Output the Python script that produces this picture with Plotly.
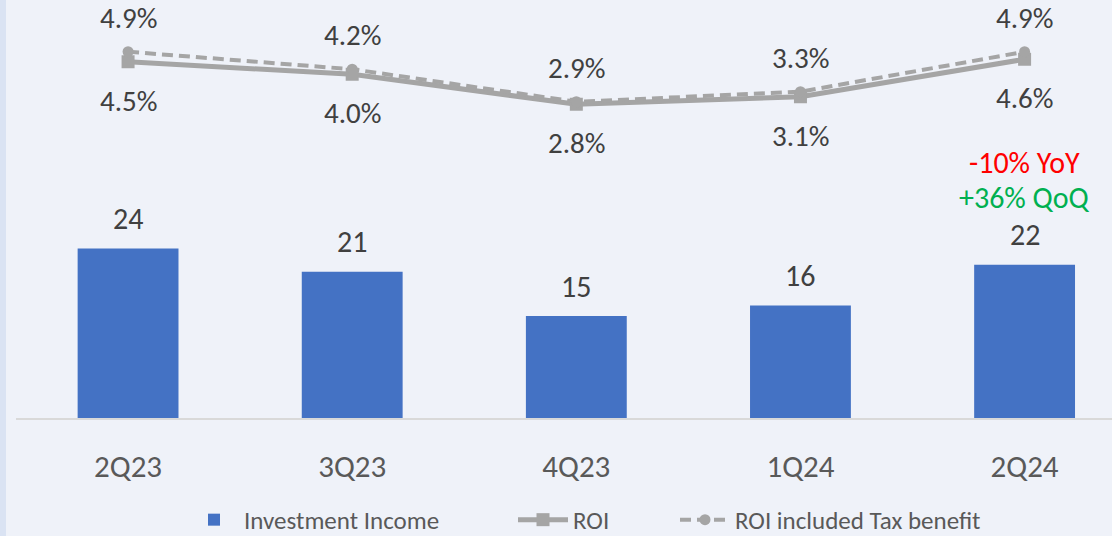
import plotly.graph_objects as go
from plotly.subplots import make_subplots

categories = ["2Q23", "3Q23", "4Q23", "1Q24", "2Q24"]
investment_income = [24.1, 20.8, 14.5, 16.0, 21.8]
bar_labels = ["24", "21", "15", "16", "22"]
roi = [4.5, 4.0, 2.8, 3.1, 4.6]
roi_tax = [4.9, 4.2, 2.9, 3.3, 4.9]
roi_labels = ["4.5%", "4.0%", "2.8%", "3.1%", "4.6%"]
roi_tax_labels = ["4.9%", "4.2%", "2.9%", "3.3%", "4.9%"]
yoy_text = "-10% YoY"
qoq_text = "+36% QoQ"

FONT = "Calibri, Carlito, Lato, sans-serif"
LABEL_C = "#404040"
TICK_C = "#595959"
GRAY = "#a5a5a5"
BLUE = "#4472c4"

fig = make_subplots(specs=[[{"secondary_y": True}]])

fig.add_trace(go.Bar(
    x=categories, y=investment_income, name="Investment Income",
    marker=dict(color=BLUE, line=dict(width=0)), width=0.45, legend="legend",
), secondary_y=False)

fig.add_trace(go.Scatter(
    x=categories, y=roi, name="ROI", mode="lines+markers",
    line=dict(color=GRAY, width=5),
    marker=dict(symbol="square", size=13, color=GRAY), legend="legend2",
), secondary_y=True)

fig.add_trace(go.Scatter(
    x=categories, y=roi_tax, name="ROI included Tax benefit", mode="lines+markers",
    line=dict(color=GRAY, width=4, dash="11px,6px"),
    marker=dict(symbol="circle", size=11, color=GRAY), legend="legend3",
), secondary_y=True)

annotations = []
for c, v, t in zip(categories, investment_income, bar_labels):
    annotations.append(dict(x=c, y=v, xref="x", yref="y", text=t,
                            showarrow=False, yshift=30,
                            font=dict(family=FONT, size=30, color=LABEL_C)))
for c, v, t in zip(categories, roi, roi_labels):
    annotations.append(dict(x=c, y=v, xref="x", yref="y2", text=t,
                            showarrow=False, yshift=-39,
                            font=dict(family=FONT, size=29, color=LABEL_C)))
for c, v, t in zip(categories, roi_tax, roi_tax_labels):
    annotations.append(dict(x=c, y=v, xref="x", yref="y2", text=t,
                            showarrow=False, yshift=34,
                            font=dict(family=FONT, size=29, color=LABEL_C)))
annotations.append(dict(x=categories[-1], y=investment_income[-1], xref="x", yref="y",
                        text=qoq_text, showarrow=False, yshift=67,
                        font=dict(family=FONT, size=30, color="#00b050")))
annotations.append(dict(x=categories[-1], y=investment_income[-1], xref="x", yref="y",
                        text=yoy_text, showarrow=False, yshift=102,
                        font=dict(family=FONT, size=30, color="#ff0000")))

def leg(x_px):
    return dict(orientation="h", xref="container", yref="container",
                x=x_px / 1112, y=0.03, xanchor="left", yanchor="middle",
                font=dict(family=FONT, size=25, color=TICK_C),
                bgcolor="rgba(0,0,0,0)", itemwidth=50)

fig.update_layout(
    width=1112, height=536,
    margin=dict(l=16, r=0, t=0, b=118),
    paper_bgcolor="#eff2f9",
    plot_bgcolor="rgba(0,0,0,0)",
    bargap=0.55,
    showlegend=True,
    legend=leg(246 - 62),
    legend2=leg(575 - 62),
    legend3=leg(737 - 62),
    annotations=annotations,
    shapes=[dict(type="rect", xref="x domain", yref="y domain", x0=-16/1096, x1=-10/1096,
                 y0=-118/418, y1=1, fillcolor="#dae3f3", line=dict(width=0), layer="below")],
)

fig.update_xaxes(domain=[0, 1], range=[-0.5, 4.39], showgrid=False, showline=True,
                 linecolor="#d9d9d9", linewidth=2, ticks="",
                 tickfont=dict(family=FONT, size=31, color=TICK_C),
                 ticklabelstandoff=20, zeroline=False)
fig.update_yaxes(range=[0, 59.46], visible=False, showgrid=False, secondary_y=False)
fig.update_yaxes(range=[-9.75, 6.97], visible=False, showgrid=False, secondary_y=True)

fig.write_html("out.html")
